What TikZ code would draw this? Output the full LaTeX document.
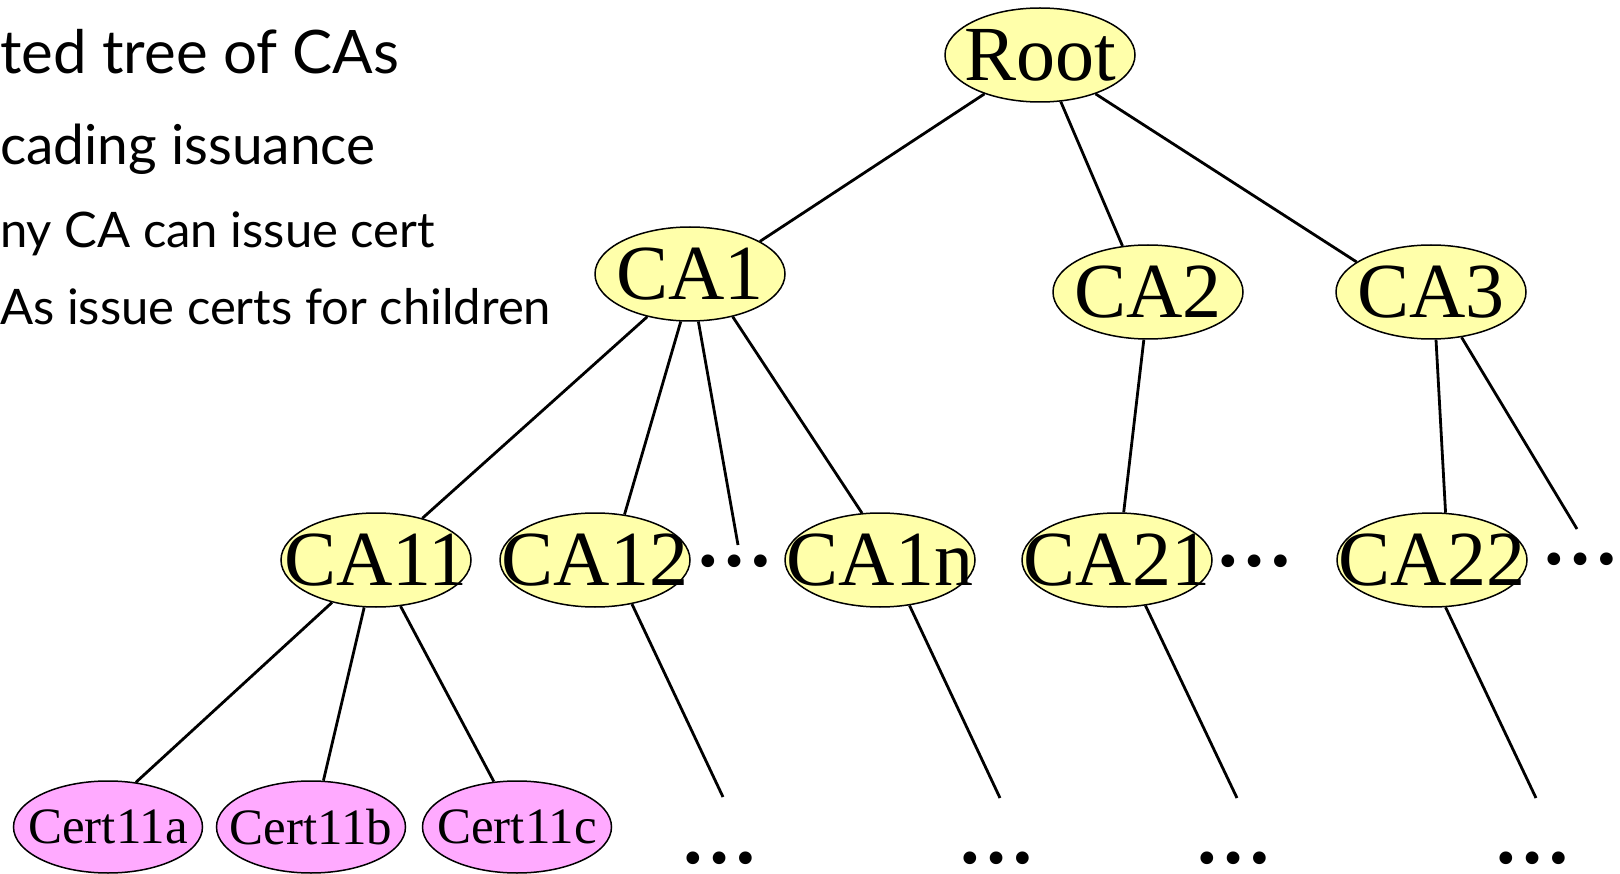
\documentclass[tikz,border=0pt]{standalone}
\usepackage{fontspec}
\setmainfont{Liberation Serif}
\newfontfamily\gillfont{Lato}
\usetikzlibrary{shapes.geometric}
\definecolor{nodeyellow}{RGB}{255,255,170}
\definecolor{certpink}{RGB}{255,170,255}
\newcommand\zw[1]{\makebox[0pt]{#1}}
\begin{document}
\begin{tikzpicture}[x=1pt,y=-1pt,
  ca/.style={ellipse, draw, line width=1.5pt, fill=nodeyellow, minimum width=190pt, minimum height=94pt, inner sep=0pt, font=\fontsize{78}{78}\selectfont},
  cert/.style={ellipse, draw, line width=1.5pt, fill=certpink, minimum width=189pt, minimum height=92pt, inner sep=0pt, font=\fontsize{51}{51}\selectfont},
  edge/.style={line width=2.8pt},
  dotsnode/.style={inner sep=0pt, font=\bfseries\fontsize{78}{78}\selectfont},
  bigtxt/.style={anchor=base west, inner sep=0pt, font=\gillfont\fontsize{60}{60}\selectfont},
  midtxt/.style={anchor=base west, inner sep=0pt, font=\gillfont\fontsize{55}{55}\selectfont},
  smalltxt/.style={anchor=base west, inner sep=0pt, font=\gillfont\fontsize{49}{49}\selectfont}
]
\useasboundingbox (0,0) rectangle (1620,874);

% bullet text
\node[bigtxt] (t1) at (0,74) {ted tree of CAs};
\node[midtxt] (t2) at (0,165) {cading issuance};
\node[smalltxt] (t3) at (0,248) {ny CA can issue cert};
\node[smalltxt] (t4) at (0,325) {As issue certs for children};

% tree nodes
\node[ca] (root) at (1040,55) {\zw{Root}};
\node[ca] (ca1) at (690,274) {\zw{CA1}};
\node[ca] (ca2) at (1148,292) {\zw{CA2}};
\node[ca] (ca3) at (1431,292) {\zw{CA3}};
\node[ca] (ca11) at (376,560) {\zw{CA11}};
\node[ca] (ca12) at (595,560) {\zw{CA12}};
\node[ca] (ca1n) at (880,560) {\zw{CA1n}};
\node[ca] (ca21) at (1117,560) {\zw{CA21}};
\node[ca] (ca22) at (1432,560) {\zw{CA22}};
\node[cert] (c11a) at (108,827) {\zw{Cert11a}};
\node[cert] (c11b) at (311,827) {\zw{Cert11b}};
\node[cert] (c11c) at (517,827) {\zw{Cert11c}};

% ellipsis marks
\node[dotsnode] (d12) at (734,561) {…};
\node[dotsnode] (d21) at (1254,561) {…};
\node[dotsnode] (d22) at (1580,559) {…};
\node[dotsnode] (b1) at (719,858) {…};
\node[dotsnode] (b2) at (996,858) {…};
\node[dotsnode] (b3) at (1233,858) {…};
\node[dotsnode] (b4) at (1532,858) {…};

% free ends
\coordinate (e1) at (738,545);
\coordinate (e3) at (1577,529);
\coordinate (e12) at (723,797);
\coordinate (e1n) at (1000,798);
\coordinate (e21) at (1237,798);
\coordinate (e22) at (1536,798);

% edges
\draw[edge] (root.-145) -- (ca1.25);
\draw[edge] (root.-66) -- (ca2.119);
\draw[edge] (root.-35) -- (ca3.158);
\draw[edge] (ca1.-135) -- (ca11.42);
\draw[edge] (ca1.-101) -- (ca12.57);
\draw[edge] (ca1.-80) -- (e1);
\draw[edge] (ca1.-45) -- (ca1n.111);
\draw[edge] (ca2.-95) -- (ca21.82);
\draw[edge] (ca3.-84) -- (ca22.74);
\draw[edge] (ca3.-56) -- (e3);
\draw[edge] (ca11.-136) -- (c11a.58);
\draw[edge] (ca11.-104) -- (c11b.75);
\draw[edge] (ca11.-62) -- (c11c.117);
\draw[edge] (ca12.-50) -- (e12);
\draw[edge] (ca1n.-57) -- (e1n);
\draw[edge] (ca21.-58) -- (e21);
\draw[edge] (ca22.-74) -- (e22);
\end{tikzpicture}
\end{document}
